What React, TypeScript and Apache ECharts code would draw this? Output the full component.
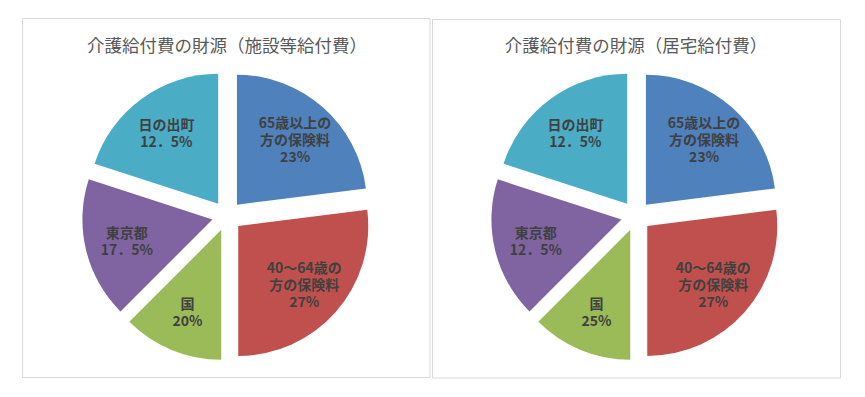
import React, { useEffect, useRef } from "react";
import * as echarts from "echarts";

// Slice sizes as drawn (both charts are drawn identically)
const sliceNames = ["65歳以上の方の保険料", "40～64歳の方の保険料", "国", "東京都", "日の出町"];
const sliceValues = [23, 27, 12.5, 17.5, 20];
const sliceColors = ["#4F81BD", "#C0504D", "#9BBB59", "#8064A2", "#4BACC6"];

// Label texts as printed on each slice
const leftTitle = "介護給付費の財源（施設等給付費）";
const rightTitle = "介護給付費の財源（居宅給付費）";
const leftLabels = [
  "65歳以上の\n方の保険料\n23%",
  "40～64歳の\n方の保険料\n27%",
  "国\n20%",
  "東京都\n17．5%",
  "日の出町\n12．5%",
];
const rightLabels = [
  "65歳以上の\n方の保険料\n23%",
  "40～64歳の\n方の保険料\n27%",
  "国\n25%",
  "東京都\n12．5%",
  "日の出町\n12．5%",
];

const FONT = '"Noto Sans CJK JP", "Noto Sans", sans-serif';

function pieSeries(center: [number, number], labels: string[]) {
  const common = {
    type: "pie" as const,
    center,
    startAngle: 90,
    clockwise: true,
    selectedMode: "multiple" as const,
    selectedOffset: 15,
    avoidLabelOverlap: false,
    silent: true,
    emphasis: { disabled: true },
    labelLine: { show: false },
  };
  return [
    {
      ...common,
      radius: [0, 130],
      itemStyle: { borderWidth: 0 },
      select: { itemStyle: { borderWidth: 0 } },
      label: { show: false },
      data: sliceValues.map((v, i) => ({
        name: sliceNames[i],
        value: v,
        selected: true,
        itemStyle: { color: sliceColors[i] },
      })),
    },
    {
      ...common,
      radius: [40, 130],
      itemStyle: { color: "rgba(0,0,0,0)", borderWidth: 0 },
      select: { itemStyle: { color: "rgba(0,0,0,0)", borderWidth: 0 } },
      label: {
        show: true,
        position: "inside",
        color: "#404040",
        fontFamily: FONT,
        fontWeight: "bold",
        fontSize: 14,
        lineHeight: 17,
        align: "center",
        formatter: (p: any) => labels[p.dataIndex],
      },
      data: sliceValues.map((v, i) => ({
        name: sliceNames[i],
        value: v,
        selected: true,
      })),
    },
  ];
}

export default function App() {
  const ref = useRef<HTMLDivElement>(null);
  useEffect(() => {
    if (!ref.current) return;
    const chart = echarts.init(ref.current, undefined, { renderer: "svg" });
    chart.setOption({
      animation: false,
      backgroundColor: "#ffffff",
      graphic: [
        {
          type: "rect",
          shape: { x: 22.5, y: 18.5, width: 407.5, height: 359 },
          style: { fill: "none", stroke: "#d9d9d9", lineWidth: 1 },
          silent: true,
        },
        {
          type: "rect",
          shape: { x: 432.5, y: 19.5, width: 408, height: 358.5 },
          style: { fill: "none", stroke: "#d9d9d9", lineWidth: 1 },
          silent: true,
        },
        {
          type: "text",
          x: 227,
          y: 44,
          style: {
            text: leftTitle,
            align: "center",
            verticalAlign: "middle",
            fontSize: 17.5,
            fontFamily: FONT,
            fill: "#595959",
          },
          silent: true,
        },
        {
          type: "text",
          x: 636,
          y: 44,
          style: {
            text: rightTitle,
            align: "center",
            verticalAlign: "middle",
            fontSize: 17.5,
            fontFamily: FONT,
            fill: "#595959",
          },
          silent: true,
        },
      ],
      series: [...pieSeries([227, 216], leftLabels), ...pieSeries([636, 216], rightLabels)],
    });
    return () => chart.dispose();
  }, []);
  return (
    <div
      ref={ref}
      style={{ position: "absolute", left: 0, top: 0, width: 865, height: 397 }}
    />
  );
}
